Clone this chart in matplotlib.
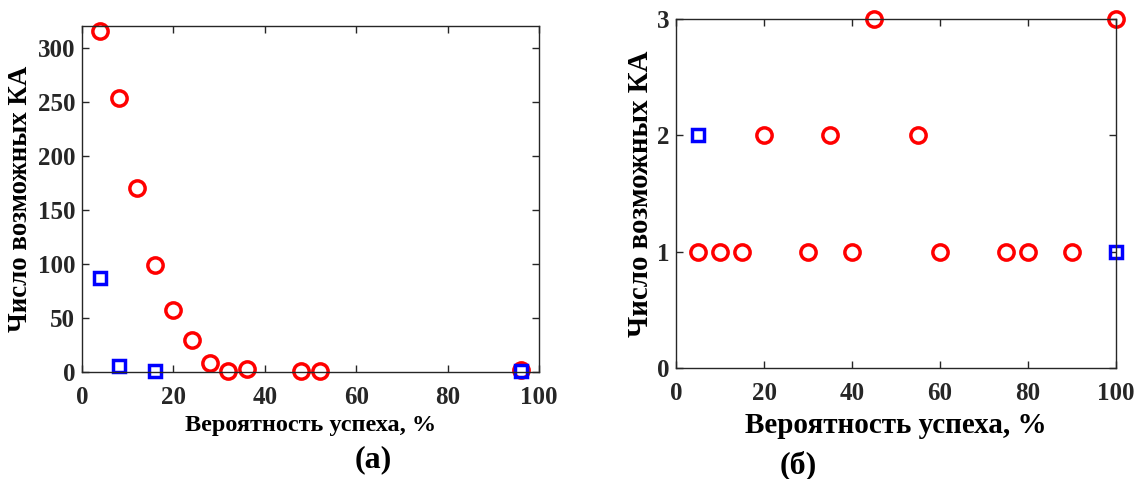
import matplotlib
matplotlib.use('Agg')
import matplotlib.pyplot as plt

# panel (a)
a_red_x = [4, 8, 12, 16, 20, 24, 28, 32, 36, 48, 52, 96]
a_red_y = [315, 253, 170, 99, 57, 30, 8, 1, 3, 1, 1, 2]
a_blue_x = [4, 8, 16, 96]
a_blue_y = [87, 6, 1, 1]

# panel (б)
b_red_x = [5, 10, 15, 20, 30, 35, 40, 45, 55, 60, 75, 80, 90, 100]
b_red_y = [1, 1, 1, 2, 1, 2, 1, 3, 2, 1, 1, 1, 1, 3]
b_blue_x = [5, 100]
b_blue_y = [2, 1]

xlabel = 'Вероятность успеха, %'
ylabel = 'Число возможных КА'

plt.rcParams['font.family'] = ['Liberation Serif', 'DejaVu Serif']
plt.rcParams['font.weight'] = 'bold'
dark = '#262626'

fig = plt.figure(figsize=(11.41, 4.79), dpi=100)
ax1 = fig.add_axes([0.0719, 0.2234, 0.4005, 0.7223])
ax2 = fig.add_axes([0.5925, 0.2317, 0.3856, 0.7286])

def style(ax, xsize, ysize):
    for s in ax.spines.values():
        s.set_color(dark)
        s.set_linewidth(1.0)
    ax.tick_params(direction='in', top=True, right=True, colors=dark,
                   labelsize=18, length=5, width=1.0)
    ax.tick_params(axis='x', pad=10)
    ax.tick_params(axis='y', pad=5)
    for t in ax.get_xticklabels() + ax.get_yticklabels():
        t.set_fontweight('bold')
    ax.set_xlabel(xlabel, fontsize=xsize, fontweight='bold', color='black')
    ax.set_ylabel(ylabel, fontsize=ysize, fontweight='bold', color='black')

ax1.plot(a_red_x, a_red_y, 'o', ms=11, mfc='none', mec='red', mew=2.5, clip_on=False)
ax1.plot(a_blue_x, a_blue_y, 's', ms=8, mfc='none', mec='blue', mew=2.5, clip_on=False)
ax1.set_xlim(0, 100)
ax1.set_ylim(0, 320)
ax1.set_xticks([0, 20, 40, 60, 80, 100])
ax1.set_yticks([0, 50, 100, 150, 200, 250, 300])
style(ax1, 17.5, 19.4)
ax1.xaxis.set_label_coords(0.5, -0.156)
ax1.yaxis.set_label_coords(-0.135, 0.5)

ax2.plot(b_red_x, b_red_y, 'o', ms=11, mfc='none', mec='red', mew=2.5, clip_on=False)
ax2.plot(b_blue_x, b_blue_y, 's', ms=8, mfc='none', mec='blue', mew=2.5, clip_on=False)
ax2.set_xlim(0, 100)
ax2.set_ylim(0, 3)
ax2.set_xticks([0, 20, 40, 60, 80, 100])
ax2.set_yticks([0, 1, 2, 3])
style(ax2, 21, 20.8)
ax2.xaxis.set_label_coords(0.5, -0.166)
ax2.yaxis.set_label_coords(-0.08, 0.5)

for lbl in [ax1.xaxis.label, ax2.xaxis.label]:
    lbl.set_va('center')
for lbl in [ax1.yaxis.label, ax2.yaxis.label]:
    lbl.set_va('center')

fig.text(373 / 1141, 1 - 460 / 479, '(а)', ha='center', va='center', fontsize=23, fontweight='bold')
fig.text(798 / 1141, 1 - 465 / 479, '(б)', ha='center', va='center', fontsize=23, fontweight='bold')

fig.savefig('out.png', dpi=100)
